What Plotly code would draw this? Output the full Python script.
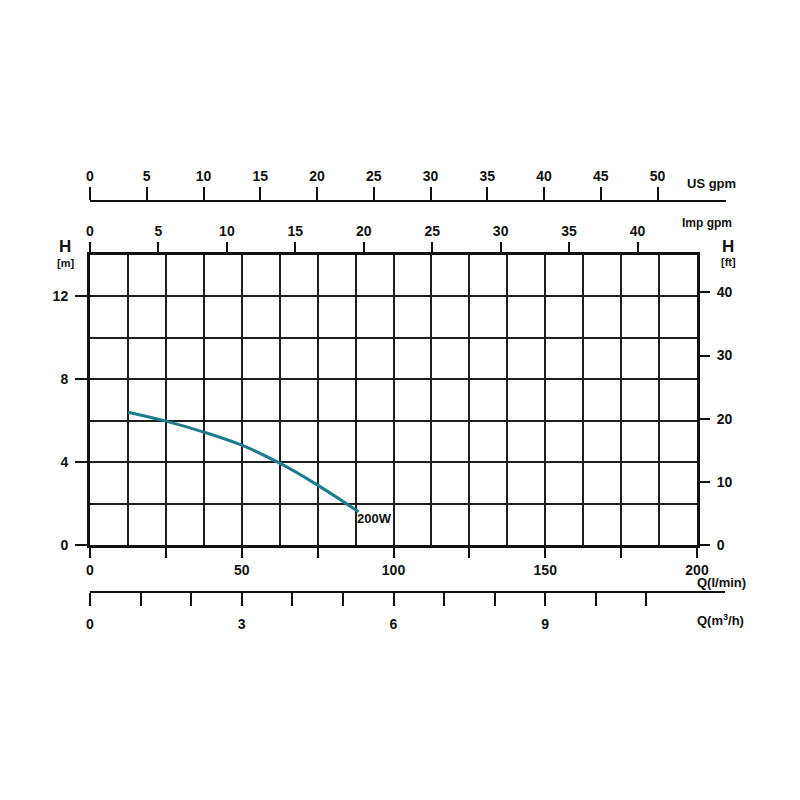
import plotly.graph_objects as go

# ---- data ----
flow_lmin = [12.5, 25, 37.5, 50, 62.5, 75, 88.5]
head_m = [6.41, 5.98, 5.45, 4.82, 3.95, 2.89, 1.6]
curve_name = "200W"

q_ticks = [0, 25, 50, 75, 100, 125, 150, 175, 200]
q_labels = ["0", "", "50", "", "100", "", "150", "", "200"]
h_ticks = [0, 4, 8, 12]
ft_ticks = [0, 10, 20, 30, 40]
imp_ticks = [0, 5, 10, 15, 20, 25, 30, 35, 40]
us_ticks = [0, 5, 10, 15, 20, 25, 30, 35, 40, 45, 50]
m3h_ticks = [0, 1, 2, 3, 4, 5, 6, 7, 8, 9, 10, 11]
m3h_labels = ["0", "", "", "3", "", "", "6", "", "", "9", "", ""]

# unit conversions as scaled in the picture
L_PER_US_GPM = 3.74
L_PER_IMP_GPM = 4.51
L_PER_M3H = 1000 / 60
M_PER_FT = 0.3048

Q_MAX = 200
H_MAX = 14

W = 800
x0, x1 = 90, 697
y_bot, y_top = 545, 255
px_per_l = (x1 - x0) / Q_MAX

def px(v):
    return v / W

def py(v):
    return (W - v) / W

FONT = "Liberation Sans, Arial, sans-serif"
tickfont = dict(family=FONT, size=14, color="#111", weight="bold")
GRID = "#1e1e1e"

fig = go.Figure()
fig.add_trace(go.Scatter(x=flow_lmin, y=head_m, mode="lines",
                         line=dict(color="#1c7d8c", width=3, shape="spline"),
                         showlegend=False, xaxis="x", yaxis="y", hoverinfo="skip"))

us_end = 726
m3_end = 725
us_range = ((us_end - x0) / px_per_l) / L_PER_US_GPM
m3_range = ((m3_end - x0) / px_per_l) / L_PER_M3H

fig.update_layout(
    width=W, height=W,
    margin=dict(l=0, r=0, t=0, b=0),
    plot_bgcolor="rgba(0,0,0,0)", paper_bgcolor="white",
    xaxis=dict(domain=[px(x0), px(x1)], range=[0, Q_MAX], anchor="y",
               tickmode="array", tickvals=q_ticks, ticktext=q_labels,
               ticks="outside", ticklen=10, tickwidth=2, tickcolor="#111",
               showgrid=True, gridcolor=GRID, gridwidth=2,
               minor=dict(dtick=12.5, showgrid=True, gridcolor=GRID, gridwidth=2, ticks=""),
               showline=True, linecolor="#111", linewidth=3, mirror=True,
               zeroline=False, tickfont=tickfont, automargin=False),
    yaxis=dict(domain=[py(y_bot), py(y_top)], range=[0, H_MAX], anchor="x",
               tickmode="array", tickvals=h_ticks,
               ticks="outside", ticklen=12, tickwidth=2, tickcolor="#111",
               showgrid=True, gridcolor=GRID, gridwidth=2,
               minor=dict(dtick=2, showgrid=True, gridcolor=GRID, gridwidth=2, ticks=""),
               showline=True, linecolor="#111", linewidth=3, mirror=True,
               zeroline=False, tickfont=tickfont, ticklabelstandoff=4, automargin=False),
    yaxis2=dict(overlaying="y", side="right", anchor="x",
                range=[0, H_MAX / M_PER_FT], tickmode="array", tickvals=ft_ticks,
                ticks="outside", ticklen=12, tickwidth=2, tickcolor="#111",
                showgrid=False, zeroline=False, showline=False,
                tickfont=tickfont, ticklabelstandoff=4, automargin=False),
    xaxis2=dict(overlaying="x", side="top", anchor="y",
                range=[0, Q_MAX / L_PER_IMP_GPM], tickmode="array", tickvals=imp_ticks,
                ticks="outside", ticklen=12, tickwidth=2, tickcolor="#111",
                showgrid=False, zeroline=False, showline=False,
                tickfont=tickfont, automargin=False),
    # hidden helper y axis for the free-standing scales
    yaxis3=dict(domain=[py(y_bot), py(y_top)], range=[0, 1], anchor="x3",
                visible=False, showgrid=False, zeroline=False, fixedrange=True),
    xaxis3=dict(domain=[px(x0), px(us_end)], anchor="free", position=py(201), side="top",
                range=[0, us_range], tickmode="array", tickvals=us_ticks,
                ticks="outside", ticklen=13, tickwidth=2, tickcolor="#111",
                showgrid=False, zeroline=False, showline=True, linecolor="#111", linewidth=2,
                tickfont=tickfont, automargin=False),
    xaxis4=dict(domain=[px(x0), px(m3_end)], anchor="free", position=py(592), side="bottom",
                range=[0, m3_range], tickmode="array", tickvals=m3h_ticks, ticktext=m3h_labels,
                ticks="outside", ticklen=13, tickwidth=2, tickcolor="#111",
                showgrid=False, zeroline=False, showline=True, linecolor="#111", linewidth=2,
                tickfont=tickfont, ticklabelstandoff=6, automargin=False),
)

# placeholder traces so the secondary scales are drawn
fig.add_trace(go.Scatter(x=[None], y=[None], xaxis="x2", yaxis="y2", showlegend=False))
fig.add_trace(go.Scatter(x=[None], y=[None], xaxis="x3", yaxis="y3", showlegend=False))
fig.add_trace(go.Scatter(x=[None], y=[None], xaxis="x4", yaxis="y3", showlegend=False))

def ann(text, x, y, size=13, xanchor="center", bold=True):
    fig.add_annotation(text=text, x=px(x), y=py(y), xref="paper", yref="paper",
                       showarrow=False, xanchor=xanchor, yanchor="middle",
                       font=dict(family=FONT, size=size, color="#111",
                                 weight="bold" if bold else "normal"))

ann("US gpm", 685, 183, 13, "left")
ann("Imp gpm", 680, 223, 12, "left")
ann("H", 65, 246, 17)
ann("[m]", 65, 263, 11)
ann("H", 728, 246, 17)
ann("[ft]", 728, 262, 11)
ann("Q(l/min)", 695, 582, 13, "left")
ann("Q(m<sup>3</sup>/h)", 695, 620, 13, "left")

fig.add_annotation(text=curve_name, x=flow_lmin[-1] - 1.3, y=1.3, xref="x", yref="y",
                   showarrow=False, xanchor="left", yanchor="middle",
                   font=dict(family=FONT, size=13, color="#111", weight="bold"))

fig.write_html("out.html", config={"displayModeBar": False},
               post_script="document.body.style.margin='0';")
